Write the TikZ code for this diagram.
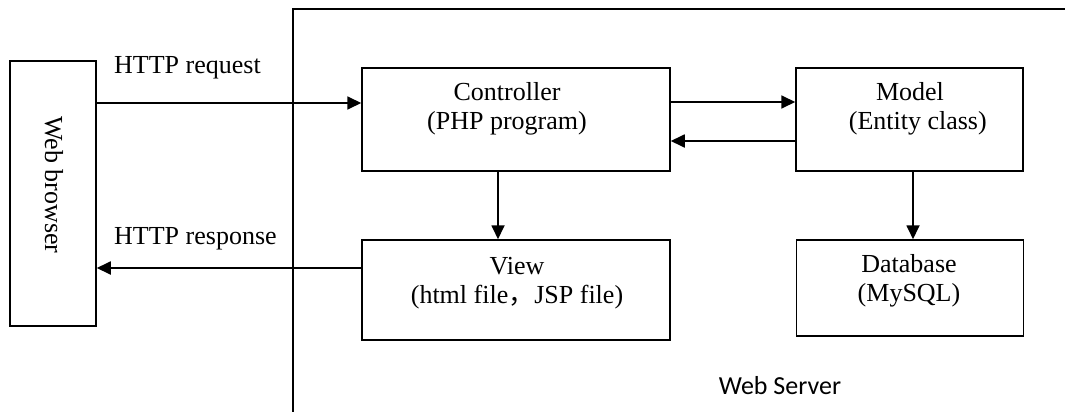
\documentclass[tikz,border=0pt]{standalone}
\usepackage{fontspec}
\setmainfont{Liberation Serif}
\newfontfamily\sansws{Carlito}
\newfontfamily\cjk{Noto Sans CJK SC}
\usetikzlibrary{arrows.meta}
\begin{document}
\begin{tikzpicture}[x=1pt,y=-1pt,
  box/.style={draw,line width=1.5pt,inner sep=0pt},
  txt/.style={align=center,inner sep=0pt,font=\fontsize{26}{29}\selectfont},
  arr/.style={line width=1.8pt,-{Triangle[length=14pt,width=13pt]}},
  frame/.style={line width=1.5pt}]
\useasboundingbox (0,0) rectangle (1065,412);
% web server frame
\coordinate (ftop) at (293,9);
\coordinate (fbot) at (293,412);
\coordinate (fright) at (1065,9);
\draw[frame] (fbot) -- (ftop) -- (fright);
% boxes
\node[box,minimum width=86pt,minimum height=265pt] (browser) at (53,193.5) {};
\node[box,minimum width=308pt,minimum height=103pt] (ctrl) at (516,119.5) {};
\node[box,minimum width=227pt,minimum height=103pt] (model) at (909.5,119.5) {};
\node[box,minimum width=308pt,minimum height=100pt] (view) at (516,290) {};
\node[box,minimum width=227pt,minimum height=96pt] (db) at (910,288) {};
% texts
\node[txt,rotate=-90] (browsert) at (54,185) {Web browser};
\node[txt] (ctrlt) at (507,109) {Controller\\(PHP program)};
\node[txt] (modelt) at (910,109) {Model\\\hspace*{0.6em}(Entity class)};
\node[txt] (viewt) at (517,283) {View\\(html file{\cjk ，}JSP file)};
\node[txt] (dbt) at (909,281) {Database\\(MySQL)};
\node[txt,anchor=base west] (reqt) at (114,74) {HTTP request};
\node[txt,anchor=base west] (respt) at (114,244) {HTTP response};
\node[inner sep=0pt,font=\sansws\fontsize{26}{29}\selectfont] (ws) at (780,386) {Web Server};
% connectors
\draw[arr] (browser.east |- 0,103) -- (ctrl.west |- 0,103);
\draw[arr] (view.west |- 0,268) -- (browser.east |- 0,268);
\draw[arr] (ctrl.east |- 0,102) -- (model.west |- 0,102);
\draw[arr] (model.west |- 0,141) -- (ctrl.east |- 0,141);
\draw[arr] (ctrl.south -| 498,0) -- (view.north -| 498,0);
\draw[arr] (model.south -| 913,0) -- (db.north -| 913,0);
\end{tikzpicture}
\end{document}
